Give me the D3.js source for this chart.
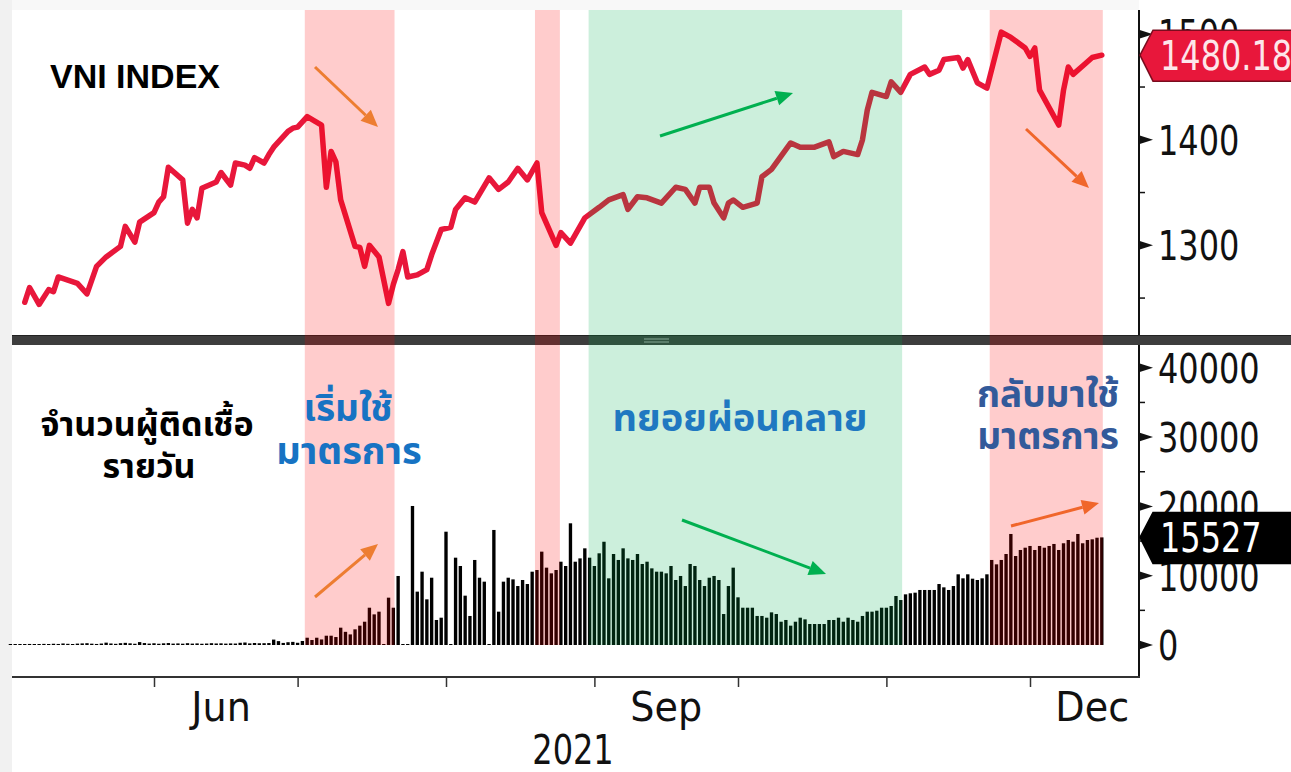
<!DOCTYPE html>
<html><head><meta charset="utf-8">
<script src="https://cdn.jsdelivr.net/npm/d3@7"></script>
<style>
body{margin:0;background:#fff;overflow:hidden}
.thai{font-family:"Noto Sans Thai","Noto Sans Thai UI","Noto Sans Thai Looped","Leelawadee UI","Tahoma","Loma","Garuda","Sarabun","Noto Sans",sans-serif;font-weight:700}
</style></head>
<body>
<svg id="c" width="1291" height="772"></svg>
<script>
// ---------------- DATA ----------------
const lineDates = ["2021-05-05","2021-05-06","2021-05-08","2021-05-10","2021-05-11","2021-05-12","2021-05-14","2021-05-16","2021-05-18","2021-05-20","2021-05-22","2021-05-25","2021-05-26","2021-05-28","2021-05-29",
"2021-06-01","2021-06-02","2021-06-03","2021-06-04","2021-06-07","2021-06-08","2021-06-09","2021-06-10","2021-06-11","2021-06-14","2021-06-15","2021-06-17","2021-06-18","2021-06-20","2021-06-21","2021-06-22","2021-06-24","2021-06-25","2021-06-26","2021-06-29","2021-06-30",
"2021-07-01","2021-07-03","2021-07-06","2021-07-07","2021-07-08","2021-07-09","2021-07-10","2021-07-13","2021-07-14","2021-07-15","2021-07-16","2021-07-18","2021-07-20","2021-07-21","2021-07-22","2021-07-23","2021-07-24","2021-07-26","2021-07-28","2021-07-29","2021-07-31",
"2021-08-02","2021-08-03","2021-08-05","2021-08-07","2021-08-10","2021-08-12","2021-08-14","2021-08-16","2021-08-18","2021-08-20","2021-08-21","2021-08-24","2021-08-25","2021-08-27","2021-08-30",
"2021-09-02","2021-09-04","2021-09-07","2021-09-08","2021-09-10","2021-09-12","2021-09-15","2021-09-18","2021-09-20","2021-09-22","2021-09-23","2021-09-25","2021-09-26","2021-09-28","2021-09-29","2021-09-30",
"2021-10-02","2021-10-05","2021-10-06","2021-10-08","2021-10-12","2021-10-14","2021-10-17","2021-10-20","2021-10-21","2021-10-23","2021-10-26","2021-10-27","2021-10-28","2021-10-29",
"2021-11-01","2021-11-02","2021-11-04","2021-11-06","2021-11-09","2021-11-10","2021-11-12","2021-11-13","2021-11-16","2021-11-17","2021-11-18","2021-11-20","2021-11-22","2021-11-25","2021-11-27","2021-11-30",
"2021-12-01","2021-12-02","2021-12-03","2021-12-07","2021-12-08","2021-12-09","2021-12-10","2021-12-13","2021-12-14","2021-12-16"];
const lineValues = [1246,1260,1244,1258,1256,1270,1267,1264,1254,1280,1289,1299,1318,1303,1322,
1331,1341,1346,1374,1362,1321,1334,1326,1354,1360,1369,1357,1378,1376,1373,1383,1378,1386,1393,1408,1411,
1412,1422,1414,1355,1389,1379,1343,1299,1298,1280,1300,1289,1245,1263,1277,1294,1270,1272,1277,1291,1315,
1317,1334,1345,1341,1364,1353,1360,1373,1362,1378,1331,1300,1312,1302,1326,
1336,1343,1348,1334,1346,1345,1340,1355,1353,1340,1355,1355,1340,1326,1340,1343,
1336,1340,1365,1372,1397,1393,1393,1398,1384,1389,1386,1400,1428,1445,
1441,1455,1445,1462,1469,1462,1466,1476,1478,1468,1476,1454,1449,1502,1497,1487,
1479,1487,1447,1414,1447,1469,1462,1474,1478,1480.18];

const caseStart = "2021-05-02";
const casesMay = [90,110,120,100,150,110,130,160,100, 180,150,220,170,140,200,230, 260,190,150,210,340,220,170, 260,310,240,180,420,280,200];
const casesJun = [250,180,240,280,200,230,190, 260,200,230,180,210,260,220, 240,200,230,210,320,360,230, 290,250,260,280,780,560,300, 400,450];
const casesJul = [320,580,1050,720,1050,800,1340,1340,1150,2500,1900,1530,2260,2790,3360,5380,4420,4810,50,6830,5380,9960,30,30,20060,7700,10580,6590,9710,3610,3940];
const casesAug = [16350,50,12600,11400,7120,4190,12270,9710,9140,50,16600,4810,9140,9710,9470,8510,9380,8800,10580,10820,13470,11160,10340,10820,12020,11400,17560,12020,12500,13950,12600];
const casesSep = [11400,13230,14900,9620,13130,12270,13950,12500,12270,13130,11690,12020,11060,10580,10580,10340,11400,9380,9960,8510,11690,11400,9380,8510,9710,9960,9380,4470,8510,11160];
const casesOct = [6880,5380,5380,5380,4190,4190,3940,4710,4470,3360,3610,2790,3360,3940,3700,3030,3030,3030,3030,3610,3610,3940,3360,3940,3610,3360,4190,4810,4810,4950,5380];
const casesNov = [5380,5630,7070,6490,7310,7460,7550,7940,7940,7940,7940,8800,8320,7940,8510,10200,9620,10200,9570,9380,9620,10200,12270,11640,12270,13130,16020,12840,13710,14040];
const casesDec = [14290,13710,14290,14040,14290,14580,13710,14680,15150,14910,16020,14680,15150,15250,15480,15527];

const vniTicks = [1300,1400,1500];
const vniMinorTicks = [1250,1350,1450];
const caseTicks = [0,10000,20000,30000,40000];
const caseMinorTicks = [5000,15000,25000,35000];
const monthLabels = ["Jun","Sep","Dec"];
const monthLabelDates = ["2021-06-15","2021-09-16","2021-12-14"];
const yearLabel = "2021";
const redPeriods = [["2021-07-02T12:00","2021-07-21T06:00"],["2021-08-19T14:00","2021-08-24T19:00"],["2021-11-22T14:00","2021-12-16T05:00"]];
const greenPeriods = [["2021-08-30T19:00","2021-11-04T07:00"]];
const lastVni = "1480.18";
const lastCases = "15527";

// ---------------- LAYOUT ----------------
const W = 1291, H = 772;
const L = 12, R = 1139;
const topY0 = 10, topY1 = 335, sepY1 = 345, botY1 = 677;

const pDay = d3.timeParse("%Y-%m-%d");
const pHour = d3.timeParse("%Y-%m-%dT%H:%M");

const x = d3.scaleTime().domain([pDay("2021-06-01"), pDay("2021-12-01")]).range([154, 1030]);
const yTop = d3.scaleLinear().domain([1215, 1523]).range([topY1, topY0]);
const yBot = d3.scaleLinear().domain([0, 40000]).range([645, 367.8]);

const svg = d3.select("#c");
svg.append("rect").attr("width",W).attr("height",H).attr("fill","#fff");
svg.append("rect").attr("x",0).attr("y",0).attr("width",L).attr("height",H).attr("fill","#f1f1f1");
svg.append("rect").attr("x",L).attr("y",0).attr("width",R-L).attr("height",topY0).attr("fill","#f8f8f8");

// bars
const allCases = [].concat(casesMay,casesJun,casesJul,casesAug,casesSep,casesOct,casesNov,casesDec);
const start = pDay(caseStart);
const barData = allCases.map((v,i)=>({d:d3.timeDay.offset(start,i), v}));
const bw = (x(pDay("2021-06-02")) - x(pDay("2021-06-01"))) * 0.7;
svg.append("g").selectAll("rect").data(barData).join("rect")
  .attr("x", d => x(d.d) - bw/2)
  .attr("y", d => Math.min(yBot(d.v), yBot(0) - 1))
  .attr("width", bw)
  .attr("height", d => Math.max(1, yBot(0) - yBot(d.v)))
  .attr("fill", "#000");

// line
svg.append("clipPath").attr("id","topclip").append("rect")
  .attr("x",L).attr("y",topY0).attr("width",R-L).attr("height",topY1-topY0);
const lineData = lineDates.map((d,i)=>({d:pDay(d), v:lineValues[i]}));
svg.append("path").datum(lineData)
  .attr("clip-path","url(#topclip)")
  .attr("fill","none").attr("stroke","#e8173b").attr("stroke-width",5.5)
  .attr("stroke-linejoin","round").attr("stroke-linecap","round")
  .attr("d", d3.line().x(d=>x(d.d)).y(d=>yTop(d.v)));

// separator
svg.append("rect").attr("x",L).attr("y",topY1).attr("width",W-L).attr("height",sepY1-topY1).attr("fill","#3d3d3d");
svg.append("line").attr("x1",L).attr("x2",W).attr("y1",topY1+0.5).attr("y2",topY1+0.5).attr("stroke","#222").attr("stroke-width",1);
[339,342].forEach(yy=>svg.append("line").attr("x1",644).attr("x2",669).attr("y1",yy).attr("y2",yy).attr("stroke","#a8a8a8").attr("stroke-width",1));

// shading on top (semi-transparent)
const shade = svg.append("g");
redPeriods.forEach(p=>shade.append("rect").attr("x",x(pHour(p[0]))).attr("width",x(pHour(p[1]))-x(pHour(p[0])))
  .attr("y",topY0).attr("height",yBot(0)-topY0).attr("fill","#ff0000").attr("fill-opacity",0.2));
greenPeriods.forEach(p=>shade.append("rect").attr("x",x(pHour(p[0]))).attr("width",x(pHour(p[1]))-x(pHour(p[0])))
  .attr("y",topY0).attr("height",yBot(0)-topY0).attr("fill","#00b050").attr("fill-opacity",0.2));

// frames
svg.append("line").attr("x1",R).attr("x2",R).attr("y1",topY0).attr("y2",topY1).attr("stroke","#111").attr("stroke-width",2);
svg.append("line").attr("x1",R).attr("x2",R).attr("y1",sepY1).attr("y2",botY1).attr("stroke","#111").attr("stroke-width",2);
svg.append("line").attr("x1",L).attr("x2",R+1).attr("y1",botY1).attr("y2",botY1).attr("stroke","#333").attr("stroke-width",2);

// x axis ticks
const xAxis = d3.axisBottom(x).ticks(d3.timeMonth.every(1)).tickSize(10).tickFormat("");
const gx = svg.append("g").attr("transform",`translate(0,${botY1})`).call(xAxis);
gx.select(".domain").remove();
gx.selectAll(".tick line").attr("stroke","#333").attr("stroke-width",1.5);

const numFont = "'DejaVu Sans',sans-serif";
function numText(txt, tx, ty, sx, fill, size){
  svg.append("text").attr("transform",`translate(${tx},${ty}) scale(${sx},1)`)
    .attr("font-family",numFont).attr("font-size",size||41).attr("fill",fill||"#111").text(txt);
}
monthLabels.forEach((m,i)=>{
  svg.append("text").attr("transform",`translate(${x(pDay(monthLabelDates[i]))},721) scale(0.93,1)`)
    .attr("text-anchor","middle").attr("font-family",numFont).attr("font-size",41).attr("fill","#111").text(m);
});
svg.append("text").attr("transform",`translate(573,764) scale(0.8,1)`).attr("text-anchor","middle")
  .attr("font-family",numFont).attr("font-size",40).attr("fill","#111").text(yearLabel);

// right axis ticks
function tri(yy){ svg.append("path").attr("d",`M${R},${yy-4.5}L${R+14},${yy}L${R},${yy+4.5}Z`).attr("fill","#111"); }
function minor(yy){ svg.append("line").attr("x1",R).attr("x2",R+6).attr("y1",yy).attr("y2",yy).attr("stroke","#111").attr("stroke-width",1.5); }
vniTicks.forEach(t=>{ tri(yTop(t)); numText(String(t),1158,yTop(t)+15,0.78); });
vniMinorTicks.forEach(t=>minor(yTop(t)));
caseTicks.forEach(t=>{ tri(yBot(t)); numText(String(t),1158,yBot(t)+15,0.78); });
caseMinorTicks.forEach(t=>minor(yBot(t)));

// callouts
function callout(yy, txt, fill, stroke, tfill){
  svg.append("path").attr("d",`M${R+1},${yy}L${R+14},${yy-25}L${W+5},${yy-25}L${W+5},${yy+26}L${R+14},${yy+26}Z`)
    .attr("fill",fill).attr("stroke",stroke).attr("stroke-width",1.5);
  numText(txt,1160,yy+15,0.78,tfill);
}
callout(yTop(+lastVni), lastVni, "#e8173b", "#7a0c1e", "#fde6ea");
callout(yBot(+lastCases), lastCases, "#000", "#000", "#fff");

// arrows (annotations)
function arrow(x1,y1,x2,y2,color){
  const a = Math.atan2(y2-y1,x2-x1), hl = 17, hw = 7.5;
  const bx = x2 - hl*Math.cos(a), by = y2 - hl*Math.sin(a);
  svg.append("line").attr("x1",x1).attr("y1",y1).attr("x2",bx).attr("y2",by).attr("stroke",color).attr("stroke-width",3);
  const px = -Math.sin(a)*hw, py = Math.cos(a)*hw;
  svg.append("path").attr("d",`M${x2},${y2}L${bx+px},${by+py}L${bx-px},${by-py}Z`).attr("fill",color);
}
arrow(315,67,378,127,"#ed7d31");
arrow(660,136,793,93,"#00b050");
arrow(1026,129,1089,188,"#f0662b");
arrow(315,597,378,544,"#ed7d31");
arrow(682,520,826,574,"#00b050");
arrow(1011,526,1099,503,"#f0662b");

// texts
svg.append("text").attr("x",50).attr("y",88).attr("font-family","'Liberation Sans',Arial,sans-serif")
  .attr("font-weight",700).attr("font-size",34).attr("fill","#000").text("VNI INDEX");
function thai(txt, cx, by, size, fill){
  svg.append("text").attr("class","thai").attr("x",cx).attr("y",by).attr("text-anchor","middle")
    .attr("font-size",size).attr("fill",fill).text(txt);
}
thai("จำนวนผู้ติดเชื้อ",147,436,34,"#000");
thai("รายวัน",149,478,34,"#000");
thai("เริ่มใช้",348,421,37,"#1773c3");
thai("มาตรการ",349,464,38,"#1773c3");
thai("ทยอยผ่อนคลาย",740,431,38,"#1f78c1");
thai("กลับมาใช้",1048,407,37,"#335a9a");
thai("มาตรการ",1048,449,37,"#335a9a");
</script>
</body></html>
